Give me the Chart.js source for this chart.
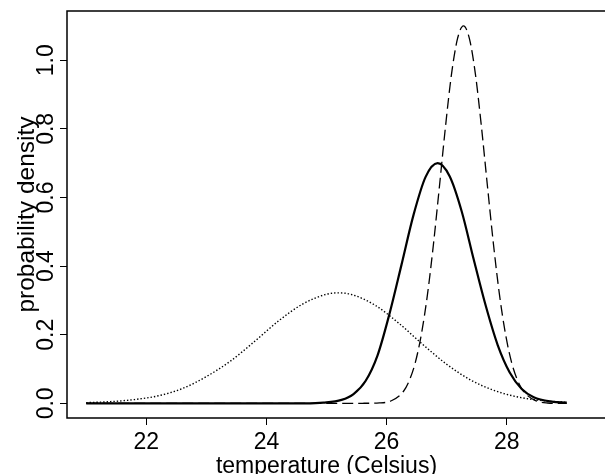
<!DOCTYPE html>
<html>
<head>
<meta charset="utf-8">
<script src="https://cdn.jsdelivr.net/npm/chart.js@4/dist/chart.umd.min.js"></script>
<style>
  html, body { margin: 0; padding: 0; background: #fff; }
  canvas { display: block; }
</style>
</head>
<body>
<canvas id="c" width="605" height="474"></canvas>
<script>
// ---- data ----
const xTicks = [22, 24, 26, 28];
const yTicks = [0.0, 0.2, 0.4, 0.6, 0.8, 1.0];

const xDotted = [21.0,21.4,21.8,22.2,22.6,23.0,23.4,23.8,24.2,24.6,25.0,25.2,25.4,25.8,26.2,26.6,27.0,27.4,27.8,28.2,28.6,29.0];
const yDotted = [0.002,0.005,0.011,0.022,0.043,0.078,0.123,0.180,0.240,0.289,0.318,0.322,0.318,0.287,0.234,0.172,0.114,0.068,0.037,0.018,0.008,0.003];

const xSolid = [21.0,22.0,23.0,24.0,24.65,24.95,25.25,25.45,25.65,25.85,26.05,26.25,26.45,26.65,26.85,27.05,27.25,27.45,27.65,27.85,28.05,28.25,28.45,28.75,29.0];
const ySolid = [0,0,0,0,0.000,0.002,0.010,0.027,0.065,0.140,0.262,0.405,0.550,0.660,0.700,0.662,0.560,0.420,0.285,0.170,0.090,0.042,0.018,0.005,0.002];

const xDashed = [21.0,23.0,25.0,25.6,25.88,26.08,26.28,26.38,26.48,26.58,26.68,26.78,26.88,26.98,27.08,27.18,27.28,27.38,27.48,27.58,27.68,27.78,27.88,27.98,28.08,28.18,28.28,28.48,28.68,28.88,29.0];
const yDashed = [0,0,0,0.0002,0.0012,0.0075,0.0345,0.067,0.120,0.202,0.316,0.463,0.632,0.805,0.958,1.062,1.100,1.062,0.958,0.805,0.632,0.463,0.316,0.202,0.120,0.067,0.035,0.008,0.001,0.000,0];

const xTitle = 'temperature (Celsius)';
const yTitle = 'probability density';

// ---- chart ----
const pts = (xs, ys) => xs.map((x, i) => ({ x: x, y: ys[i] }));
const FONT = 'Liberation Sans, Arial, Helvetica, sans-serif';
Chart.defaults.font.family = FONT;
Chart.defaults.color = '#000';

const boxPlugin = {
  id: 'box',
  afterDraw(chart) {
    const { ctx, chartArea: a, width } = chart;
    ctx.save();
    ctx.strokeStyle = '#000';
    ctx.lineWidth = 1.5;
    ctx.beginPath();
    ctx.moveTo(width, a.top); ctx.lineTo(a.left, a.top); ctx.lineTo(a.left, a.bottom); ctx.lineTo(width, a.bottom);
    ctx.stroke();
    ctx.restore();
  }
};

new Chart(document.getElementById('c'), {
  type: 'line',
  data: {
    datasets: [
      { data: pts(xSolid, ySolid), borderColor: '#000', borderWidth: 2.2, pointRadius: 0, cubicInterpolationMode: 'monotone', fill: false },
      { data: pts(xDashed, yDashed), borderColor: '#000', borderWidth: 1.3, borderDash: [11, 5], pointRadius: 0, cubicInterpolationMode: 'monotone', fill: false },
      { data: pts(xDotted, yDotted), borderColor: '#000', borderWidth: 1.4, borderDash: [1.4, 2], pointRadius: 0, cubicInterpolationMode: 'monotone', fill: false }
    ]
  },
  options: {
    responsive: false,
    animation: false,
    devicePixelRatio: 1,
    layout: { padding: { left: 0, right: 19, top: 11, bottom: 0 } },
    plugins: { legend: { display: false }, tooltip: { enabled: false } },
    scales: {
      x: {
        type: 'linear', min: 20.68, max: 29.32,
        afterBuildTicks: s => { s.ticks = xTicks.map(v => ({ value: v })); },
        afterFit: s => { s.height = 56; },
        grid: { display: true, drawOnChartArea: false, drawTicks: true, tickLength: 7, color: '#000', lineWidth: 1 },
        border: { display: false },
        ticks: { font: { size: 23 }, padding: 4, maxRotation: 0, autoSkip: false, callback: v => String(v) },
        title: { display: true, text: xTitle, font: { size: 23 }, padding: { top: 0, bottom: -6 } }
      },
      y: {
        type: 'linear', min: -0.0427, max: 1.1434,
        afterBuildTicks: s => { s.ticks = yTicks.map(v => ({ value: v })); },
        afterFit: s => { s.width = 67; },
        grid: { display: true, drawOnChartArea: false, drawTicks: true, tickLength: 7, color: '#000', lineWidth: 1 },
        border: { display: false },
        ticks: { font: { size: 23 }, padding: -3, minRotation: 90, maxRotation: 90, crossAlign: 'center', autoSkip: false, callback: v => Number(v).toFixed(1) },
        title: { display: true, text: yTitle, font: { size: 24.5 }, padding: { top: 13, bottom: 0 } }
      }
    }
  },
  plugins: [boxPlugin]
});
</script>
</body>
</html>
